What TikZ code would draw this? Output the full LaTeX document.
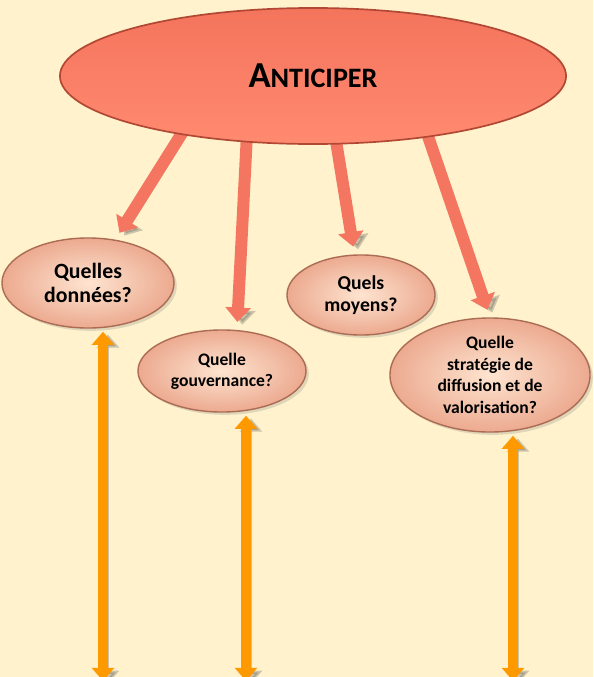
\documentclass[tikz,border=0pt]{standalone}
\usepackage{fontspec}
\setmainfont{Carlito}
\usetikzlibrary{shapes.geometric,arrows.meta,shadows,calc}

\definecolor{creme}{RGB}{255,242,204}
\definecolor{saumon}{RGB}{244,118,96}
\definecolor{saumonhaut}{RGB}{244,116,92}
\definecolor{saumonbas}{RGB}{255,138,112}
\definecolor{bordrouge}{RGB}{176,72,52}
\definecolor{pecheclair}{RGB}{254,228,208}
\definecolor{pechefonce}{RGB}{236,170,144}
\definecolor{bordpeche}{RGB}{172,108,84}
\definecolor{orange}{RGB}{255,153,0}

\pgfdeclarelayer{fond}
\pgfdeclarelayer{fleches}
\pgfsetlayers{fond,fleches,main}

\begin{document}
\begin{tikzpicture}[x=0.025cm,y=-0.025cm,
    titre/.style={ellipse,draw=bordrouge,line width=1.2pt,top color=saumonhaut,bottom color=saumonbas,
      minimum width=12.65cm,minimum height=3.4cm,inner sep=0pt},
    question/.style={ellipse,draw=bordpeche,line width=1pt,inner color=pecheclair,outer color=pechefonce,
      inner sep=0pt,align=center,font=\bfseries,
      drop shadow={opacity=0.25,shadow xshift=2pt,shadow yshift=-2pt}},
    tige/.style={draw=saumon,line width=0.3cm,-{Triangle[width=0.62cm,length=0.36cm]},
      shorten >=0.2cm,shorten <=-0.3cm,
      preaction={draw=black!70,opacity=0.28,transform canvas={xshift=3.5pt,yshift=-2pt}}},
    lien/.style={draw=orange,line width=0.25cm,
      {Triangle[width=0.55cm,length=0.33cm]}-{Triangle[width=0.55cm,length=0.33cm]},
      preaction={draw=black!70,opacity=0.28,transform canvas={xshift=3.5pt,yshift=-2pt}}}]
  \useasboundingbox (0,0) rectangle (593,677);

  \node[titre] (anticiper) at (313,76)
    {\bfseries{\fontsize{26}{26}\selectfont A}{\fontsize{20}{20}\selectfont NTICIPER}};
  \node[question,minimum width=4.3cm,minimum height=2.25cm,font=\bfseries\fontsize{15.5}{17}\selectfont]
    (donnees) at (88,283) {Quelles\\données?};
  \node[question,minimum width=4.2cm,minimum height=2.05cm,font=\bfseries\fontsize{12.5}{15}\selectfont]
    (gouvernance) at (222,371) {Quelle\\gouvernance?};
  \node[question,minimum width=3.7cm,minimum height=2cm,font=\bfseries\fontsize{14}{16}\selectfont]
    (moyens) at (361,295) {Quels\\moyens?};
  \node[question,minimum width=5cm,minimum height=2.85cm,font=\bfseries\fontsize{12.5}{15.4}\selectfont]
    (strategie) at (490,375) {Quelle\\stratégie de\\diffusion et de\\valorisation?};

  \coordinate (bas) at (0,681);

  \begin{pgfonlayer}{fond}
    \fill[creme] (0,0) rectangle (593,677);
  \end{pgfonlayer}

  \begin{pgfonlayer}{fleches}
    \foreach \ang/\dest in {204/donnees, 225/gouvernance.70, 289/moyens, 332/strategie.north}
      \draw[tige] (anticiper.\ang) -- (\dest);
    \foreach \nom/\dx in {donnees/15, gouvernance/24, strategie/23}
    {
      \coordinate (h\nom) at ($(\nom.south)+(\dx,3)$);
      \draw[lien] (h\nom) -- (h\nom |- bas);
    }
  \end{pgfonlayer}
\end{tikzpicture}
\end{document}
